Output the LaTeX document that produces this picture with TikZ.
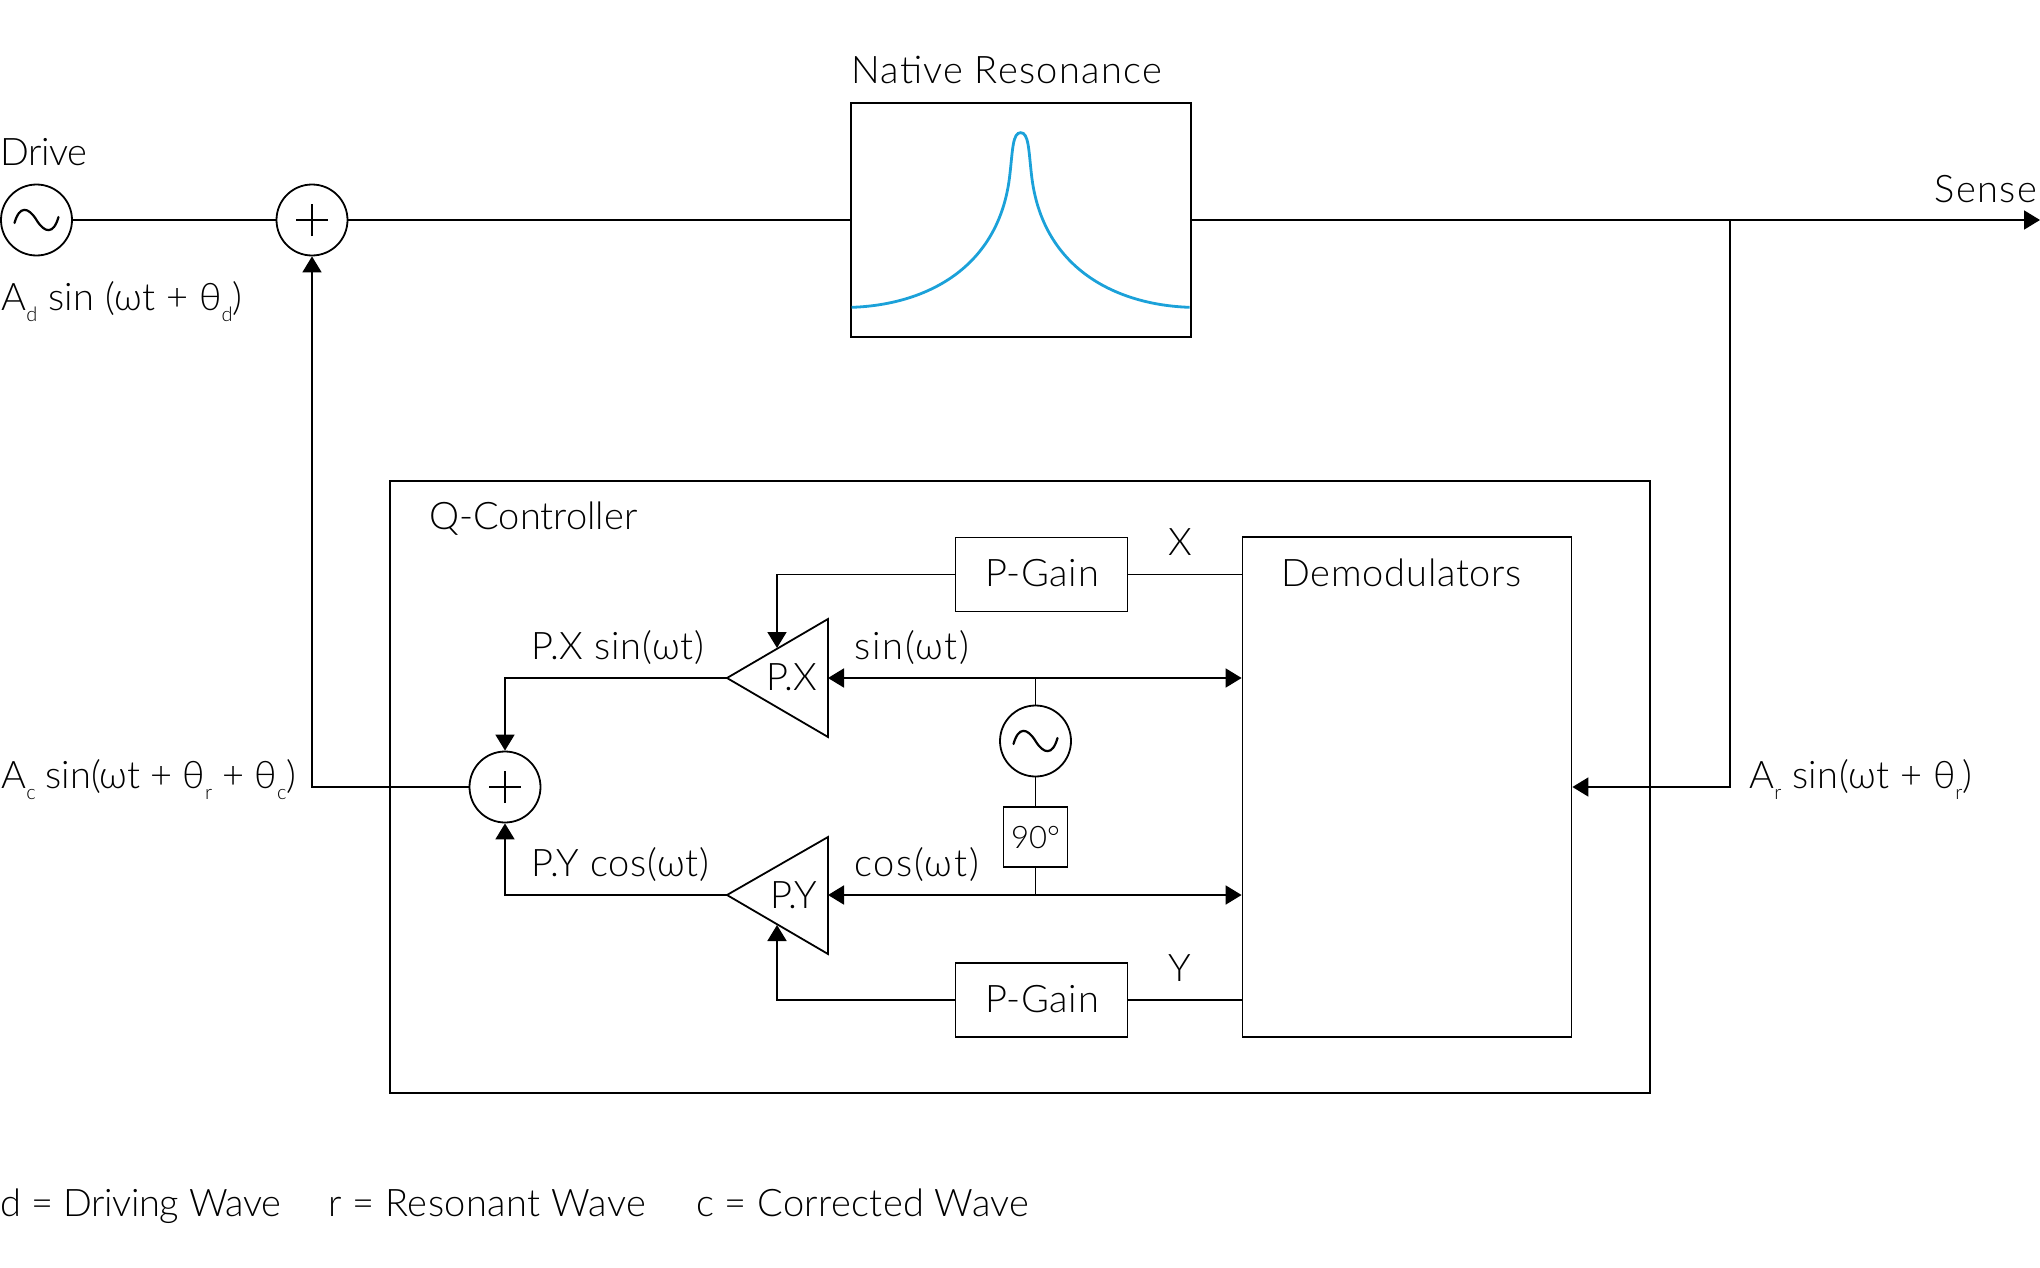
\documentclass[tikz,border=0pt]{standalone}
\usepackage{fontspec}
\setmainfont{Lato}[UprightFont=* Light]
\usetikzlibrary{arrows.meta}
\definecolor{curveblue}{HTML}{1BA1D9}
\newcommand{\sub}[1]{\raisebox{-0.62ex}{\fontsize{10}{10}\selectfont #1}}
\tikzset{
  line/.style={line width=0.9pt,draw=black},
  arrow/.style={line,-{Triangle[length=8pt,width=9.5pt]}},
  biarrow/.style={line,{Triangle[length=8pt,width=9.5pt]}-{Triangle[length=8pt,width=9.5pt]}},
  block/.style={line,rectangle,inner sep=0pt},
  disc/.style={line,circle,inner sep=0pt,minimum size=35.5pt},
  txt/.style={anchor=base west,inner sep=0pt,font=\fontsize{19}{19}\selectfont},
  ctxt/.style={txt,anchor=base},
  ls/.style={font=\fontsize{19}{19}\selectfont\addfontfeature{LetterSpace=#1}},
}
\newcommand{\tildeglyph}[1]{\draw[line width=1.1pt,line cap=round] ([shift={(-22,3)}]#1.center) .. controls ([shift={(-17,-15)}]#1.center) and ([shift={(-8,-13)}]#1.center) .. (#1.center) .. controls ([shift={(8,13)}]#1.center) and ([shift={(17,15)}]#1.center) .. ([shift={(22,-3)}]#1.center);}
\newcommand{\plusglyph}[1]{\draw[line width=1pt] ([xshift=-8pt]#1.center) -- ([xshift=8pt]#1.center) ([yshift=-8pt]#1.center) -- ([yshift=8pt]#1.center);}
\begin{document}
\begin{tikzpicture}[x=0.5pt,y=-0.5pt]
\useasboundingbox (0,0) rectangle (2040,1268);
% blocks
\node[block,minimum width=170pt,minimum height=117pt] (native) at (1021,220) {};
\node[block,minimum width=630pt,minimum height=306pt] (qc) at (1020,787) {};
\node[block,minimum width=164.5pt,minimum height=250pt] (demod) at (1407,787) {};
\node[block,minimum width=86pt,minimum height=37pt] (gaintop) at (1041.5,574.5) {};
\node[block,minimum width=86pt,minimum height=37pt] (gainbot) at (1041.5,1000) {};
\node[block,minimum width=32pt,minimum height=30pt] (shift) at (1035.5,837) {};
\node[disc] (drive) at (36.5,220) {};
\node[disc] (sumtop) at (312,220) {};
\node[disc] (sumin) at (505,787) {};
\node[disc] (osc) at (1035.5,741) {};
% triangles
\coordinate (pxapex) at (727,678);
\coordinate (pxin) at (828,678);
\coordinate (pxtop) at (777,648);
\coordinate (pyapex) at (727,895);
\coordinate (pyin) at (828,895);
\coordinate (pybot) at (777,925);
\draw[line,line join=miter] (pxapex) -- (828,619) -- (828,737) -- cycle;
\draw[line,line join=miter] (pyapex) -- (828,837) -- (828,954) -- cycle;
% glyphs
\tildeglyph{drive}\tildeglyph{osc}
\plusglyph{sumtop}\plusglyph{sumin}
% resonance curve
\begin{scope}[shift={(830,40)},xscale=1/3,yscale=1/3]
\draw[curveblue,line width=1.4pt] (65,802) .. controls (280,795) and (510,690) .. (540,400) .. controls (548,330) and (548,278) .. (572,278) .. controls (596,278) and (596,330) .. (604,400) .. controls (634,690) and (864,795) .. (1079,802);
\end{scope}
% free ends and junctions
\coordinate (senseend) at (2040,220);
\coordinate (tap) at (1730,220);
\coordinate (tapdown) at (1730,787);
\coordinate (demodin) at (demod.east |- tapdown);
\coordinate (sinnode) at (1035.5,678);
\coordinate (cosnode) at (1035.5,895);
\coordinate (demodsin) at (demod.west |- sinnode);
\coordinate (demodcos) at (demod.west |- cosnode);
\coordinate (demodx) at (demod.west |- gaintop);
\coordinate (demody) at (demod.west |- gainbot);
% connectors
\draw[line] (drive) -- (sumtop);
\draw[line] (sumtop) -- (native);
\draw[arrow] (native.east |- senseend) -- (senseend);
\draw[arrow] (tap) -- (tapdown) -- (demodin);
\draw[arrow] (sumin) -- (sumin -| sumtop) -- (sumtop);
\draw[line] (gaintop) -- (demodx);
\draw[line] (gainbot) -- (demody);
\draw[arrow] (gaintop) -- (pxtop |- gaintop) -- (pxtop);
\draw[arrow] (gainbot) -- (pybot |- gainbot) -- (pybot);
\draw[arrow] (pxapex) -- (sumin |- pxapex) -- (sumin);
\draw[arrow] (pyapex) -- (sumin |- pyapex) -- (sumin);
\draw[biarrow] (pxin) -- (demodsin);
\draw[biarrow] (pyin) -- (demodcos);
\draw[line] (sinnode) -- (osc);
\draw[line] (osc) -- (shift);
\draw[line] (shift) -- (cosnode);
% labels
\node[txt,ls=3.4] (lnative) at (851,84) {Native Resonance};
\node[txt,ls=-1] (ldrive) at (0,165) {Drive};
\node[txt,ls=4] (lsense) at (1934,202) {Sense};
\node[txt,ls=1.2] (lad) at (1,310) {A\sub{d} sin (ωt + θ\sub{d})};
\node[txt,ls=-0.3] (lac) at (1,788) {A\sub{c} sin(ωt + θ\sub{r} + θ\sub{c})};
\node[txt,ls=1.2] (lar) at (1749,788) {A\sub{r} sin(ωt + θ\sub{r})};
\node[txt] (lqc) at (429,529) {Q-Controller};
\node[txt,ls=2] (ldemod) at (1281,586) {Demodulators};
\node[ctxt,ls=2] (lgaintop) at (1042,586) {P-Gain};
\node[ctxt,ls=2] (lgainbot) at (1042,1012) {P-Gain};
\node[ctxt] (lx) at (1180,555) {X};
\node[ctxt] (ly) at (1180,981) {Y};
\node[txt,ls=2.2] (lpxs) at (531,659) {P.X sin(ωt)};
\node[txt,ls=2.2] (lpyc) at (531,876) {P.Y cos(ωt)};
\node[txt,ls=4.5] (lsin) at (854,659) {sin(ωt)};
\node[txt,ls=4.5] (lcos) at (854,876) {cos(ωt)};
\node[txt,ls=1] (lpx) at (766,690) {P.X};
\node[txt,ls=1] (lpy) at (770,908) {P.Y};
\node[ctxt,font=\fontsize{15.5}{15.5}\selectfont] (l90) at (1035.5,848) {90°};
\node[txt,ls=-1] (ld) at (0,1216) {d = Driving Wave};
\node[txt,ls=1.2] (lr) at (328,1216) {r = Resonant Wave};
\node[txt,ls=0.9] (lc) at (696,1216) {c = Corrected Wave};
\end{tikzpicture}
\end{document}
